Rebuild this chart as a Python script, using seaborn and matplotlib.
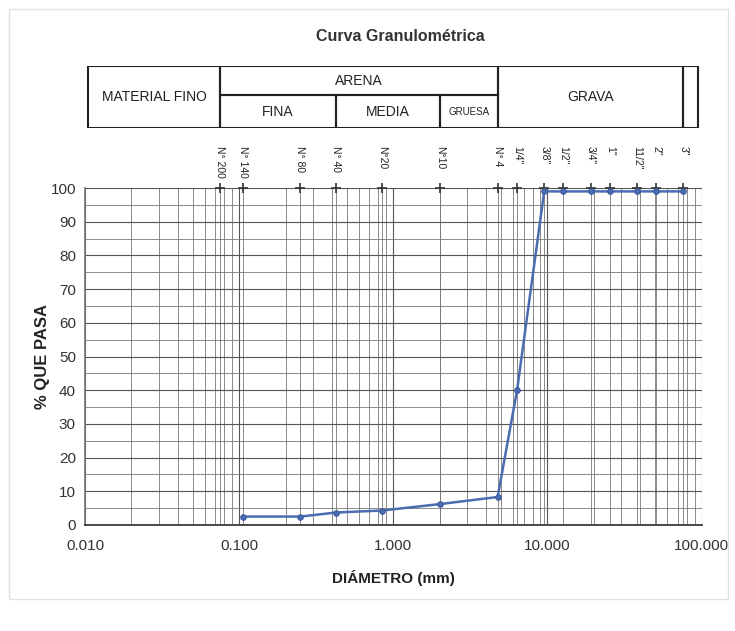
import matplotlib
matplotlib.use("Agg")
import matplotlib.pyplot as plt
import matplotlib.ticker as mticker
from matplotlib.patches import Rectangle
import seaborn as sns
import pandas as pd
import numpy as np

sns.set_theme(style="white")
plt.rcParams['font.family'] = ['Liberation Sans', 'DejaVu Sans']

# Sieve data
sieve_labels = ["N° 200", "N° 140", "N° 80", "N° 40", "N°20", "N°10", "N° 4",
                "1/4\"", "3/8\"", "1/2\"", "3/4\"", "1\"", "11/2\"", "2\"", "3\""]
sieve_mm = [0.075, 0.106, 0.25, 0.425, 0.85, 2.0, 4.75,
            6.35, 9.525, 12.7, 19.05, 25.4, 38.1, 50.8, 76.2]

# Grain size curve
curve_mm = [0.106, 0.25, 0.425, 0.85, 2.0, 4.75, 6.35, 9.525,
            12.7, 19.05, 25.4, 38.1, 50.8, 76.2]
curve_pct = [2.5, 2.5, 3.7, 4.3, 6.2, 8.3, 40.0, 99.0,
             99.0, 99.0, 99.0, 99.0, 99.0, 99.0]

xtick_vals = [0.01, 0.1, 1, 10, 100]
xtick_labels = ["0.010", "0.100", "1.000", "10.000", "100.000"]

# Classification table: (label, x0, x1, row)
class_cells = [
    ("MATERIAL FINO", 0.0105, 0.075, "full"),
    ("ARENA", 0.075, 4.75, "top"),
    ("FINA", 0.075, 0.425, "bottom"),
    ("MEDIA", 0.425, 2.0, "bottom"),
    ("GRUESA", 2.0, 4.75, "bottom"),
    ("GRAVA", 4.75, 76.2, "full"),
    ("", 76.2, 95.0, "full"),
]

fig = plt.figure(figsize=(7.35, 6.31), dpi=100)
fig.patch.set_facecolor("white")

ax = fig.add_axes([0.1156, 0.168, 0.839, 0.534])
ax.set_xscale("log")
ax.set_xlim(0.01, 100)
ax.set_ylim(0, 100)

df_curve = pd.DataFrame({"d": curve_mm, "p": curve_pct})
df_sieve = pd.DataFrame({"d": sieve_mm, "p": [100] * len(sieve_mm)})

sns.scatterplot(data=df_sieve, x="d", y="p", marker="+", color="#333333",
                s=45, linewidth=1.2, ax=ax, zorder=4, clip_on=False)
sns.lineplot(data=df_curve, x="d", y="p", color="#4a6cb0", linewidth=1.8,
             marker="o", markersize=4, markeredgecolor="#3a5aa0",
             ax=ax, zorder=5, sort=False)

ax.set_xticks(xtick_vals)
ax.set_xticklabels(xtick_labels)
ax.xaxis.set_minor_locator(mticker.LogLocator(base=10, subs=np.arange(2, 10)))
ax.xaxis.set_minor_formatter(mticker.NullFormatter())
ax.set_yticks(np.arange(0, 101, 10))
ax.yaxis.set_minor_locator(mticker.MultipleLocator(5))

ax.grid(True, which="major", color="#555555", linewidth=0.8)
ax.grid(True, which="minor", color="#777777", linewidth=0.6)
for xv in sieve_mm:
    ax.axvline(xv, color="#777777", linewidth=0.6, zorder=0)

for s in ["top", "right"]:
    ax.spines[s].set_visible(False)
ax.spines["bottom"].set_color("#333333")
ax.spines["left"].set_color("#777777")
ax.tick_params(axis="both", labelsize=11, colors="#333333", length=3)
ax.tick_params(axis="x", pad=7)
ax.tick_params(which="minor", length=0)

ax.set_xlabel("DIÁMETRO (mm)", fontsize=11, fontweight="bold", labelpad=12,
              color="#222222")
ax.set_ylabel("% QUE PASA", fontsize=12, fontweight="bold", labelpad=0,
              color="#222222")

# Sieve labels above the plot
for lab, xv in zip(sieve_labels, sieve_mm):
    ax.text(xv, 1.125, lab, transform=ax.get_xaxis_transform(), rotation=270,
            ha="center", va="top", fontsize=7.5, color="#222222")

# Classification table axes
tax = fig.add_axes([0.1156, 0.797, 0.839, 0.098])
tax.set_xscale("log")
tax.set_xlim(0.01, 100)
tax.set_ylim(0, 2)
tax.axis("off")
for lab, x0, x1, row in class_cells:
    if row == "full":
        y0, h = 0, 2
    elif row == "top":
        y0, h = 1.06, 0.94
    else:
        y0, h = 0, 1.06
    tax.add_patch(Rectangle((x0, y0), x1 - x0, h, fill=False,
                            edgecolor="#222222", linewidth=1.5))
    if lab:
        xc = np.sqrt(x0 * x1)
        fs = 7 if lab == "GRUESA" else 10
        tax.text(xc, y0 + h / 2, lab, ha="center", va="center",
                 fontsize=fs, color="#222222")

fig.text(0.545, 0.942, "Curva Granulométrica", ha="center", va="center",
         fontsize=11.5, fontweight="bold", color="#333333")

fig.add_artist(Rectangle((0.012, 0.05), 0.978, 0.935, transform=fig.transFigure,
                         fill=False, edgecolor="#e2e2e2", linewidth=1))

fig.savefig("out.png", dpi=100, facecolor="white")
